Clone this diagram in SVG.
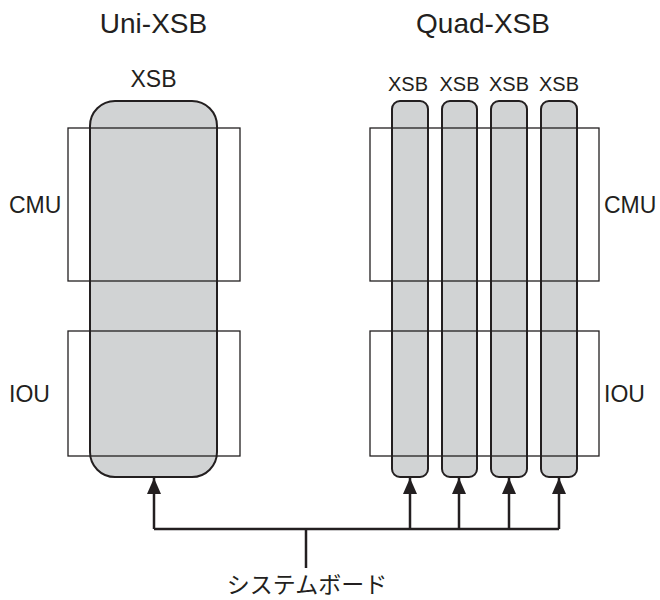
<svg xmlns="http://www.w3.org/2000/svg" width="660" height="600" viewBox="0 0 660 600">
<style>
.xsb{fill:#d1d3d4;stroke:#231f20;stroke-width:2}
.box{fill:none;stroke:#231f20;stroke-width:1.3}
.t{font-family:"Liberation Sans",Arial,sans-serif;fill:#231f20}
.line{fill:none;stroke:#231f20;stroke-width:2.5}
</style>
<defs>
<marker id="ah" viewBox="0 0 16 14" refX="16" refY="7" markerWidth="16" markerHeight="14" markerUnits="userSpaceOnUse" orient="auto">
<path d="M0,0 L16,7 L0,14 Z" fill="#231f20"/>
</marker>
</defs>
<rect width="660" height="600" fill="#fff"/>
<text class="t" x="153.5" y="33" font-size="28" text-anchor="middle">Uni-XSB</text>
<text class="t" x="483" y="33" font-size="28" text-anchor="middle">Quad-XSB</text>
<g id="uni-xsb">
<rect class="xsb" x="90" y="101" width="127" height="376" rx="25"/>
<text class="t" x="153.5" y="87" font-size="23" text-anchor="middle">XSB</text>
</g>
<g id="uni-cmu">
<rect class="box" x="68" y="128" width="172" height="153"/>
<text class="t" x="9" y="213" font-size="23">CMU</text>
</g>
<g id="uni-iou">
<rect class="box" x="68" y="331" width="172" height="125"/>
<text class="t" x="9" y="402" font-size="23">IOU</text>
</g>
<g id="quad-xsb1">
<rect class="xsb" x="392" y="101" width="36" height="376" rx="8"/>
<text class="t" x="408" y="91" font-size="20" text-anchor="middle">XSB</text>
</g>
<g id="quad-xsb2">
<rect class="xsb" x="442" y="101" width="35" height="376" rx="8"/>
<text class="t" x="459.5" y="91" font-size="20" text-anchor="middle">XSB</text>
</g>
<g id="quad-xsb3">
<rect class="xsb" x="491" y="101" width="36" height="376" rx="8"/>
<text class="t" x="509" y="91" font-size="20" text-anchor="middle">XSB</text>
</g>
<g id="quad-xsb4">
<rect class="xsb" x="541" y="101" width="36" height="376" rx="8"/>
<text class="t" x="559" y="91" font-size="20" text-anchor="middle">XSB</text>
</g>
<g id="quad-cmu">
<rect class="box" x="370" y="128" width="229" height="153"/>
<text class="t" x="604" y="213" font-size="23">CMU</text>
</g>
<g id="quad-iou">
<rect class="box" x="370" y="331" width="229" height="125"/>
<text class="t" x="604" y="402" font-size="23">IOU</text>
</g>
<g id="connectors">
<path class="line" d="M154,529 H559"/>
<path class="line" d="M154,529 V478" marker-end="url(#ah)"/>
<path class="line" d="M410,529 V478" marker-end="url(#ah)"/>
<path class="line" d="M459,529 V478" marker-end="url(#ah)"/>
<path class="line" d="M509,529 V478" marker-end="url(#ah)"/>
<path class="line" d="M559,529 V478" marker-end="url(#ah)"/>
<path class="line" d="M306,529 V568"/>
</g>
<g id="system-board">
<text x="307" y="593" font-size="23" text-anchor="middle" fill="#231f20" font-family="'Noto Sans CJK JP',sans-serif">システムボード</text>
</g>
</svg>
